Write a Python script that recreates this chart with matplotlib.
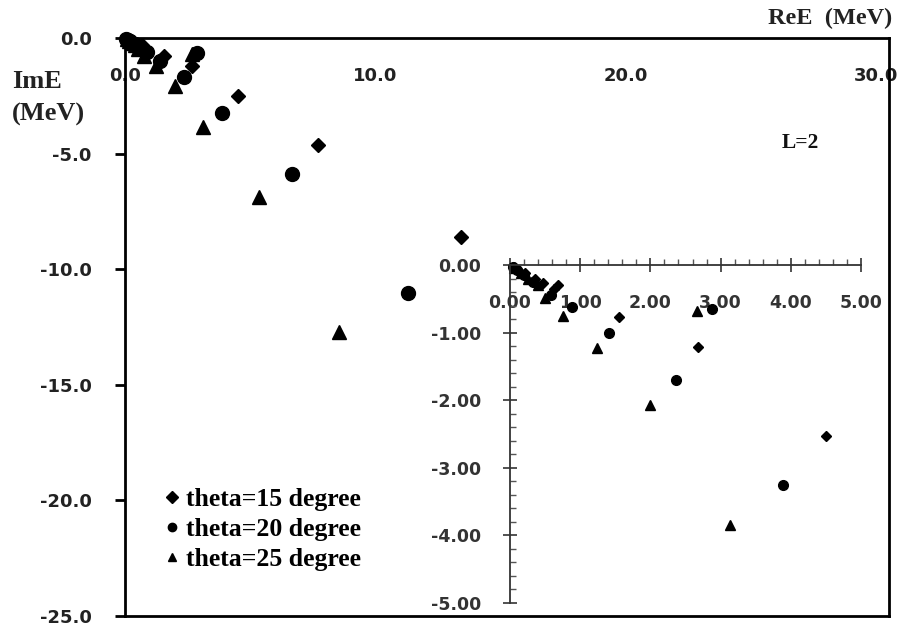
import numpy as np
import matplotlib
matplotlib.use("Agg")
import matplotlib.pyplot as plt
from matplotlib.ticker import MultipleLocator, FormatStrFormatter

# complex energies E = ReE + i ImE (MeV)
re_15 = [0.05, 0.12, 0.22, 0.35, 0.47, 0.62, 0.68, 1.55, 2.68, 4.50, 7.72, 13.40]
im_15 = [-0.03, -0.07, -0.12, -0.20, -0.26, -0.36, -0.30, -0.77, -1.21, -2.53, -4.63, -8.61]
re_20 = [0.04, 0.10, 0.20, 0.33, 0.58, 0.88, 1.41, 2.36, 2.88, 3.89, 6.68, 11.30]
im_20 = [-0.03, -0.08, -0.15, -0.25, -0.45, -0.62, -1.01, -1.70, -0.65, -3.25, -5.89, -11.04]
re_25 = [0.06, 0.15, 0.26, 0.40, 0.50, 0.76, 1.24, 1.99, 2.66, 3.13, 5.36, 8.56]
im_25 = [-0.05, -0.12, -0.20, -0.30, -0.49, -0.76, -1.23, -2.07, -0.68, -3.85, -6.88, -12.73]

labels = ["theta=15 degree", "theta=20 degree", "theta=25 degree"]
main_xticks = [0, 10, 20, 30]
main_yticks = [0, -5, -10, -15, -20, -25]
inset_xticks = [0, 1, 2, 3, 4, 5]
inset_yticks = [0, -1, -2, -3, -4, -5]

W, H = 917, 632
fig = plt.figure(figsize=(W / 100, H / 100), dpi=100)

serif = "Liberation Serif"
sans = "DejaVu Sans"

# main chart
ax = fig.add_axes([125 / W, 1 - 616 / H, (889 - 125) / W, (616 - 38) / H])
ax.set_xlim(0, 30.5)
ax.set_ylim(-25, 0)
for s in ax.spines.values():
    s.set_linewidth(2.0)
ax.xaxis.tick_top()
ax.set_xticks(main_xticks)
ax.set_yticks(main_yticks)
ax.xaxis.set_major_formatter(FormatStrFormatter("%.1f"))
ax.yaxis.set_major_formatter(FormatStrFormatter("%.1f"))
ax.tick_params(axis="x", top=True, bottom=False, labeltop=True, labelbottom=False,
               direction="in", length=0, pad=-34)
ax.tick_params(axis="y", direction="out", length=7, width=2, pad=17)
for t in ax.get_xticklabels() + ax.get_yticklabels():
    t.set_fontfamily(sans)
    t.set_fontweight("bold")
    t.set_fontsize(13)
    t.set_color("#222222")

series = [(re_15, im_15, "D"), (re_20, im_20, "o"), (re_25, im_25, "^")]
main_ms = {"D": 7, "o": 10, "^": 10.5}
for (xs, ys, m), lab in zip(series, labels):
    ax.plot(xs, ys, linestyle="none", marker=m, color="black", markersize=main_ms[m],
            label=lab, clip_on=False)

leg = ax.legend(loc="upper left", bbox_to_anchor=(0.038, 0.24), frameon=False,
                handlelength=0.6, handletextpad=0.25, labelspacing=0.28, borderaxespad=0,
                prop={"family": serif, "weight": "bold", "size": 18.5})
for h in leg.legend_handles:
    h.set_markersize(6)

fig.text(12 / W, 1 - 98 / H, "ImE\n(MeV)", family=serif, weight="bold", fontsize=19,
         ha="left", va="center", multialignment="left", linespacing=1.55,
         color="#222222")
fig.text(892 / W, 1 - 18 / H, "ReE  (MeV)", family=serif, weight="bold", fontsize=17.5,
         ha="right", va="center", color="#222222")
fig.text(800 / W, 1 - 143 / H, "L=2", family=serif, weight="bold", fontsize=15.5,
         ha="center", va="center", color="#111111")

# inset: zoom on the region near the origin
ins = fig.add_axes([510 / W, 1 - 603 / H, (861 - 510) / W, (603 - 265) / H])
ins.patch.set_alpha(0)
ins.set_xlim(0, 5)
ins.set_ylim(-5, 0)
ins.spines["right"].set_visible(False)
ins.spines["bottom"].set_visible(False)
for k in ("left", "top"):
    ins.spines[k].set_linewidth(1.3)
    ins.spines[k].set_color("#333333")
ins.xaxis.tick_top()
ins.set_xticks(inset_xticks)
ins.set_yticks(inset_yticks)
ins.xaxis.set_minor_locator(MultipleLocator(0.2))
ins.yaxis.set_minor_locator(MultipleLocator(0.2))
ins.xaxis.set_major_formatter(FormatStrFormatter("%.2f"))
ins.yaxis.set_major_formatter(FormatStrFormatter("%.2f"))
ins.tick_params(axis="x", which="major", top=True, bottom=False, labeltop=True,
                labelbottom=False, direction="inout", length=10, width=1.2,
                color="#333333", pad=-39)
ins.tick_params(axis="x", which="minor", top=True, bottom=False, direction="out",
                length=4, width=1, color="#555555")
ins.tick_params(axis="y", which="major", direction="inout", length=10, width=1.2,
                color="#333333", pad=16)
ins.tick_params(axis="y", which="minor", direction="in", length=4, width=1,
                color="#555555")
for t in ins.get_xticklabels() + ins.get_yticklabels():
    t.set_fontfamily(sans)
    t.set_fontweight("bold")
    t.set_fontsize(12.5)
    t.set_color("#333333")

ins_ms = {"D": 5, "o": 7, "^": 7}
for xs, ys, m in series:
    ins.plot(xs, ys, linestyle="none", marker=m, color="black", markersize=ins_ms[m],
             clip_on=False)

fig.savefig("out.png", dpi=100)
